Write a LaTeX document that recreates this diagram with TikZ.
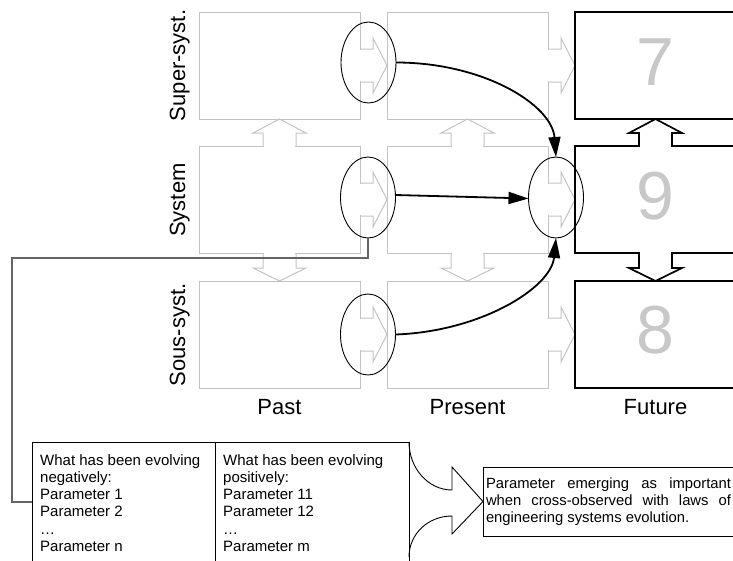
\documentclass[tikz,border=0pt]{standalone}
\usepackage{fontspec}
\setmainfont{Liberation Sans}
\usetikzlibrary{shapes.geometric,arrows.meta}
\definecolor{cellgray}{RGB}{195,195,195}
\definecolor{digitgray}{RGB}{200,200,200}
\definecolor{linkgray}{RGB}{100,100,100}
% block arrow to the right, starting at anchor #2
\newcommand\blkR[2]{%
  \fill[white] ([shift={(-1.6,-15.6)}]#2) rectangle ([shift={(1.6,15.6)}]#2);
  \draw[#1] ([shift={(0,-16.5)}]#2) -- ++(13,0) -- ++(0,-11) -- ++(14,27.5) -- ++(-14,27.5) -- ++(0,-11) -- ++(-13,0);}
% block arrow upwards
\newcommand\blkU[2]{%
  \fill[white] ([shift={(-15.6,-1.6)}]#2) rectangle ([shift={(15.6,1.6)}]#2);
  \draw[#1] ([shift={(-16.5,0)}]#2) -- ++(0,-13) -- ++(-10,0) -- ++(26.5,-14) -- ++(26.5,14) -- ++(-10,0) -- ++(0,13);}
% block arrow downwards
\newcommand\blkD[2]{%
  \fill[white] ([shift={(-15.6,-1.6)}]#2) rectangle ([shift={(15.6,1.6)}]#2);
  \draw[#1] ([shift={(-16.5,0)}]#2) -- ++(0,15) -- ++(-10,0) -- ++(26.5,13) -- ++(26.5,-13) -- ++(-10,0) -- ++(0,-15);}
\begin{document}
\begin{tikzpicture}[x=1pt,y=-1pt,
  cell/.style={draw=cellgray, line width=1pt, minimum width=161pt, minimum height=107pt, inner sep=0pt, outer sep=0pt},
  fcell/.style={draw=black, line width=1.7pt, minimum width=161pt, minimum height=107pt, inner sep=0pt, outer sep=0pt},
  garr/.style={draw=cellgray, line width=1pt},
  barr/.style={draw=black, line width=1.7pt},
  digit/.style={text=digitgray, font=\fontsize{68}{68}\selectfont, inner sep=0pt},
  ell/.style={draw=black, ellipse, line width=0.9pt, minimum width=55pt, minimum height=81pt, inner sep=0pt, outer sep=0pt},
  conn/.style={draw=black, line width=1.8pt, -{Triangle[length=20pt,width=12pt]}},
  link/.style={draw=linkgray, line width=1.2pt},
  lbl/.style={font=\fontsize{22}{26}\selectfont, inner sep=0pt},
  tcell/.style={draw=black, line width=0.9pt, minimum height=120pt, inner sep=0pt, outer sep=0pt},
  txt/.style={font=\fontsize{15}{17.3}\selectfont, align=left, inner sep=0pt, anchor=north west},
  rbox/.style={draw=black, line width=0.9pt, text width=245pt, inner xsep=3pt, inner ysep=0pt, outer sep=0pt, minimum height=69pt, align=justify, font=\fontsize{14.8}{17.3}\selectfont},
  brace/.style={draw=black, line width=0.9pt}
]
\useasboundingbox (0,0) rectangle (733,560);
\clip (0,0) rectangle (733,560);

% grid cells
\node[cell] (p1) at (279.5,65.5) {};
\node[cell] (p2) at (279.5,199.5) {};
\node[cell] (p3) at (279.5,334.5) {};
\node[cell] (r1) at (467.5,65.5) {};
\node[cell] (r2) at (467.5,199.5) {};
\node[cell] (r3) at (467.5,334.5) {};

% gray block arrows
\blkR{garr}{p1.east}
\blkR{garr}{p2.east}
\blkR{garr}{p3.east}
\blkR{garr}{r1.east}
\blkR{garr}{r2.east}
\blkR{garr}{r3.east}
\blkU{garr}{p2.north}
\blkD{garr}{p2.south}
\blkU{garr}{r2.north}
\blkD{garr}{r2.south}

% future boxes
\node[fcell] (f1) at (655.5,65.5) {};
\node[fcell] (f2) at (655.5,199.5) {};
\node[fcell] (f3) at (655.5,334.5) {};
\blkU{barr}{f2.north}
\blkD{barr}{f2.south}
\node[digit] (n7) at ([yshift=3.5pt]f1.center) {7};
\node[digit] (n9) at ([yshift=3.5pt]f2.center) {9};
\node[digit] (n8) at ([yshift=4pt]f3.center) {8};

% ellipses
\node[ell] (e1) at (368.5,62.5) {};
\node[ell] (e2) at (368,197.5) {};
\node[ell] (e3) at (368,334.5) {};
\node[ell] (e4) at (556,197.5) {};

% connectors
\draw[conn] (e1.east) .. controls +(88,0) and +(-4,-52) .. (e4.north);
\draw[conn] ([yshift=2.5pt]e2.east) -- ([yshift=-1pt]e4.west);
\draw[conn] (e3.east) .. controls +(85,-3) and +(-5,50) .. (e4.south);

% labels
\node[lbl, anchor=base] (lpast) at (279.5,414) {Past};
\node[lbl, anchor=base] (lpres) at (467.5,414) {Present};
\node[lbl, anchor=base] (lfut) at (655.5,414) {Future};
\node[lbl, rotate=90, anchor=base] (lsup) at (185,65.5) {Super-syst.};
\node[lbl, rotate=90, anchor=base] (lsys) at (185,200) {System};
\node[lbl, rotate=90, anchor=base] (lsous) at (185,335) {Sous-syst.};

% table
\node[tcell, minimum width=183pt] (tl) at (123.5,502) {};
\node[tcell, minimum width=194pt] (tr) at (312,502) {};
\node[txt] (tlt) at (40,454) {What has been evolving\\negatively:\\Parameter 1\\Parameter 2\\…\\Parameter n};
\node[txt] (trt) at (223,454) {What has been evolving\\positively:\\Parameter 11\\Parameter 12\\…\\Parameter m};

% link from system ellipse to table
\coordinate (k) at (12,258);
\draw[link] (e2.south) |- (k) |- (tl.west);

% result box
\node[rbox, anchor=west] (rb) at (483,501.5) {Parameter emerging as important\linebreak when cross-observed with laws of\linebreak engineering systems evolution.};

% brace arrow
\coordinate (bt) at (452,490);
\coordinate (bth) at (452,467);
\coordinate (bbh) at (452,534);
\coordinate (bb) at (452,516);
\coordinate (bend) at (409,557);
\draw[brace] (tr.north east) .. controls +(0,26) and +(-24,0) .. (bt) -- (bth) -- (rb.west) -- (bbh) -- (bb) .. controls +(-24,0) and +(0,-23) .. (bend);
\end{tikzpicture}
\end{document}
